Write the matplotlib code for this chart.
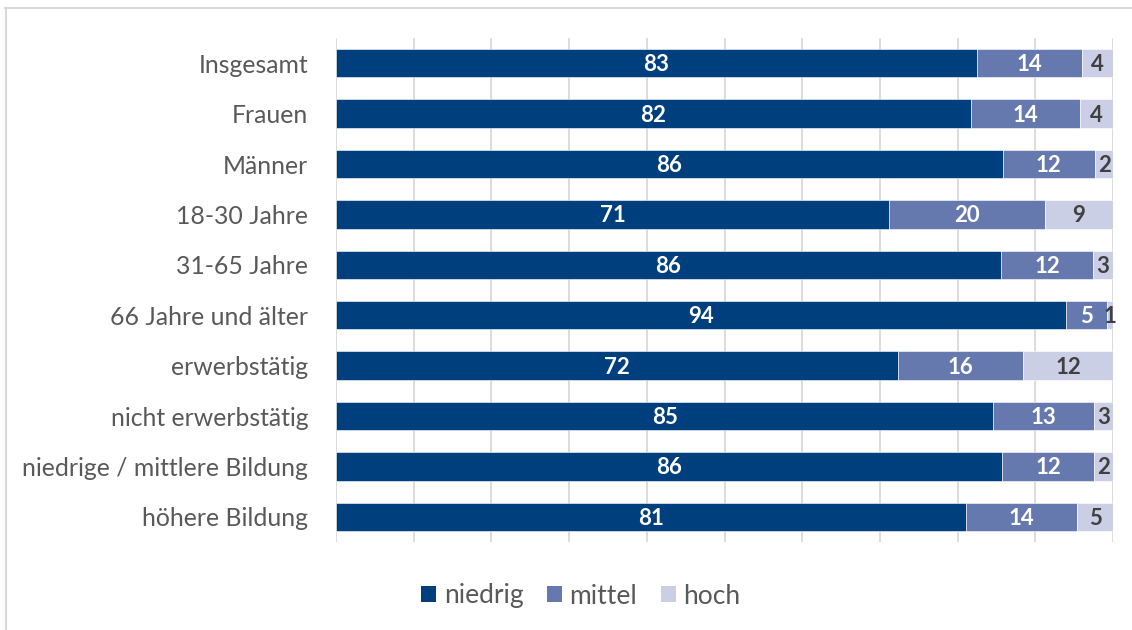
import matplotlib
matplotlib.use("Agg")
import matplotlib.pyplot as plt
from matplotlib.lines import Line2D
from matplotlib.patches import Patch

categories = ["Insgesamt", "Frauen", "Männer", "18-30 Jahre", "31-65 Jahre",
              "66 Jahre und älter", "erwerbstätig", "nicht erwerbstätig",
              "niedrige / mittlere Bildung", "höhere Bildung"]
niedrig = [82.5, 81.7, 85.8, 71.2, 85.6, 94.0, 72.3, 84.6, 85.7, 81.1]
mittel = [13.5, 14.0, 11.9, 20.0, 11.8, 5.2, 16.1, 13.0, 11.9, 14.3]
hoch = [4.0, 4.3, 2.3, 8.8, 2.6, 0.8, 11.6, 2.4, 2.4, 4.6]
niedrig_labels = [83, 82, 86, 71, 86, 94, 72, 85, 86, 81]
mittel_labels = [14, 14, 12, 20, 12, 5, 16, 13, 12, 14]
hoch_labels = [4, 4, 2, 9, 3, 1, 12, 3, 2, 5]
series_names = ["niedrig", "mittel", "hoch"]

colors = ["#003F7D", "#6679AE", "#CBCFE6"]
text_colors = ["white", "white", "#404040"]
font = ["Lato", "DejaVu Sans"]
plt.rcParams['font.family'] = font

fig = plt.figure(figsize=(11.32, 6.30), dpi=100)
ax = fig.add_axes([336/1132, 1-542/630, (1113-336)/1132, (542-38)/630])

ypos = list(range(len(categories)))
left = [0.0]*len(categories)
series = [niedrig, mittel, hoch]
labels = [niedrig_labels, mittel_labels, hoch_labels]
for s, vals in enumerate(series):
    ax.barh(ypos, vals, left=left, height=0.56, color=colors[s],
            edgecolor="white", linewidth=0.4, zorder=3)
    for i, v in enumerate(vals):
        ax.text(left[i] + v/2, i + 0.03, str(labels[s][i]), ha="center", va="center",
                color=text_colors[s], fontsize=16, fontweight="bold", zorder=4)
    left = [l + v for l, v in zip(left, vals)]

ax.set_xlim(0, 100)
ax.set_ylim(9.5, -0.5)
ax.set_xticks(range(0, 101, 10))
ax.set_xticklabels([])
ax.tick_params(axis="x", length=0)
ax.tick_params(axis="y", length=0, pad=20)
ax.set_yticks(ypos)
ax.set_yticklabels(categories, fontsize=17.8, color="#595959")
ax.grid(axis="x", color="#D9D9D9", linewidth=1.3, zorder=0)
for sp in ax.spines.values():
    sp.set_visible(False)

handles = [Patch(facecolor=c, edgecolor="none") for c in colors]
fig.legend(handles, series_names, loc="center", bbox_to_anchor=(581/1132, 1-596/630),
           ncol=3, frameon=False, fontsize=19, handlelength=0.55, handleheight=0.55,
           handletextpad=0.3, columnspacing=0.9, labelcolor="#595959")

fig.add_artist(Line2D([5/1132, 1], [1-8/630, 1-8/630], color="#D9D9D9", linewidth=1.5,
                      transform=fig.transFigure))
fig.add_artist(Line2D([6/1132, 6/1132], [0, 1-8/630], color="#D9D9D9", linewidth=1.5,
                      transform=fig.transFigure))

fig.savefig("out.png", dpi=100, facecolor="white")
